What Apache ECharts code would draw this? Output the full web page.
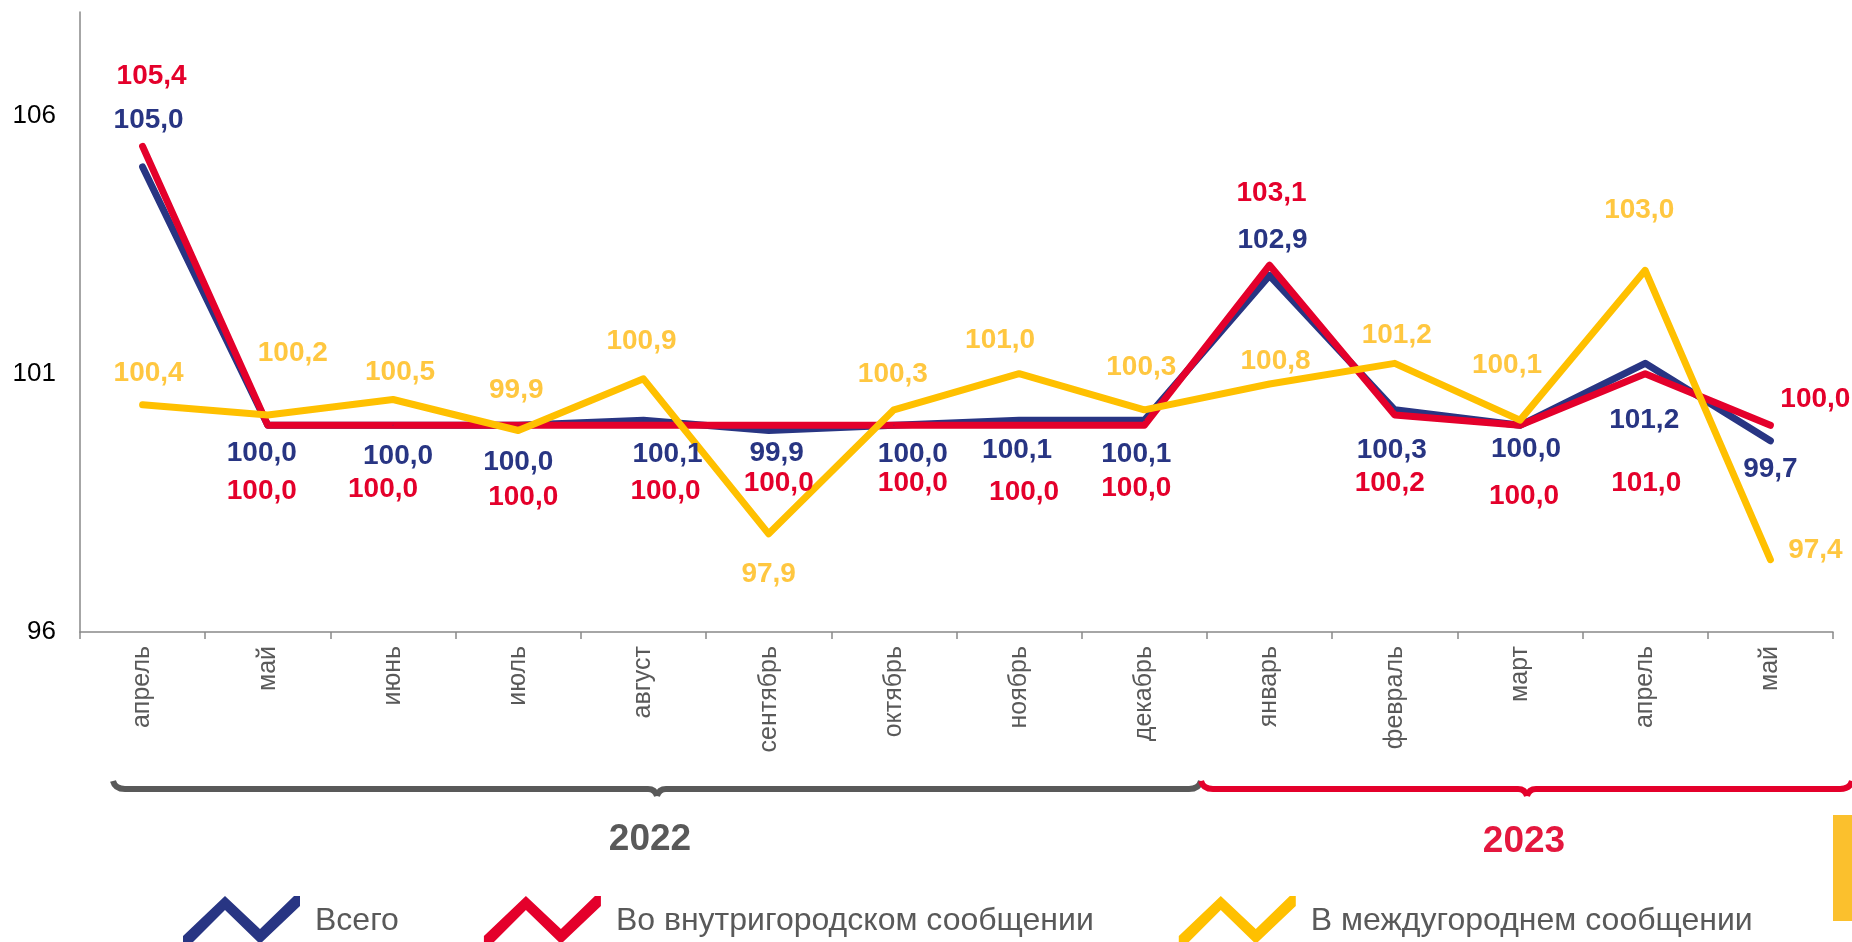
<!DOCTYPE html>
<html>
<head>
<meta charset="utf-8">
<script src="https://cdn.jsdelivr.net/npm/echarts@6/dist/echarts.min.js"></script>
<style>
  html, body { margin: 0; padding: 0; background: #fff; }
  #chart { width: 1852px; height: 942px; }
</style>
</head>
<body>
<div id="chart"></div>
<script>
// месяцы (апрель 2022 - май 2023)
var months = ['апрель', 'май', 'июнь', 'июль', 'август', 'сентябрь', 'октябрь',
  'ноябрь', 'декабрь', 'январь', 'февраль', 'март', 'апрель', 'май'];
// индексы, % к предыдущему месяцу
var total = [105.0, 100.0, 100.0, 100.0, 100.1, 99.9, 100.0, 100.1, 100.1, 102.9, 100.3, 100.0, 101.2, 99.7];
var urban = [105.4, 100.0, 100.0, 100.0, 100.0, 100.0, 100.0, 100.0, 100.0, 103.1, 100.2, 100.0, 101.0, 100.0];
var intercity = [100.4, 100.2, 100.5, 99.9, 100.9, 97.9, 100.3, 101.0, 100.3, 100.8, 101.2, 100.1, 103.0, 97.4];
var seriesNames = ['Всего', 'Во внутригородском сообщении', 'В междугороднем сообщении'];
var yearLabels = ['2022', '2023'];

// смещения подписей относительно точки
var totalOffset = [[6, -47], [-6, 28], [5, 31], [0, 37], [24, 34], [8, 23], [19, 29], [-2, 30], [-8, 34], [3, -35], [-3, 40], [6, 24], [-1, 57], [0, 28]];
var urbanOffset = [[9, -70], [-6, 66], [-10, 64], [5, 72], [22, 66], [10, 58], [19, 58], [5, 67], [-8, 63], [2, -72], [-5, 68], [4, 71], [1, 110], [45, -26]];
var interOffset = [[6, -31], [25, -62], [7, -27], [-2, -40], [-2, -38], [0, 40], [-1, -36], [-19, -33], [-3, -43], [6, -23], [2, -28], [-13, -55], [-6, -60], [45, -9]];

var FONT = '"Liberation Sans", Arial, sans-serif';

function fmt(v) {
  return v.toFixed(1).replace('.', ',');
}

function buildData(values, offsets) {
  return values.map(function (v, i) {
    return { value: v, label: { offset: offsets[i] } };
  });
}

function lineSeries(name, values, offsets, color, labelColor) {
  return {
    name: name,
    type: 'line',
    data: buildData(values, offsets),
    symbol: 'circle',
    symbolSize: 1,
    itemStyle: { color: color },
    lineStyle: { color: color, width: 7, cap: 'round', join: 'round' },
    label: {
      show: true,
      position: 'inside',
      color: labelColor,
      fontFamily: FONT,
      fontWeight: 'bold',
      fontSize: 28,
      formatter: function (p) { return fmt(p.value); }
    },
    emphasis: { disabled: true },
    animation: false
  };
}

// фигурная скобка под подписями месяцев
function brace(x1, x2, xm, y, color) {
  var st = { fill: null, stroke: color, lineWidth: 6 };
  var parts = [
    { type: 'bezierCurve', shape: { x1: x1, y1: y - 8, cpx1: x1 + 2, cpy1: y, x2: x1 + 12, y2: y } },
    { type: 'line', shape: { x1: x1 + 12, y1: y, x2: xm - 9, y2: y } },
    { type: 'bezierCurve', shape: { x1: xm - 9, y1: y, cpx1: xm - 2, cpy1: y, x2: xm, y2: y + 7 } },
    { type: 'bezierCurve', shape: { x1: xm, y1: y + 7, cpx1: xm + 2, cpy1: y, x2: xm + 9, y2: y } },
    { type: 'line', shape: { x1: xm + 9, y1: y, x2: x2 - 12, y2: y } },
    { type: 'bezierCurve', shape: { x1: x2 - 12, y1: y, cpx1: x2 - 2, cpy1: y, x2: x2, y2: y - 8 } }
  ];
  parts.forEach(function (p) { p.style = st; });
  return { type: 'group', children: parts };
}

// значок легенды - толстый зигзаг
var zigzag = 'path://M0,40 L42,0 L77,33 L111,0 L117,0 L117,10 L77,48 L42,14 L6,50 L0,50 Z';

var myChart = echarts.init(document.getElementById('chart'));
var option = {
  backgroundColor: '#fff',
  animation: false,
  grid: { left: 80, right: 19, top: 12, bottom: 310 },
  legend: {
    left: 183,
    top: 896,
    padding: 0,
    itemWidth: 117,
    itemHeight: 50,
    itemGap: 85,
    icon: zigzag,
    data: seriesNames,
    textStyle: {
      fontFamily: FONT,
      fontSize: 32,
      color: '#595959',
      padding: [0, 0, 0, 10]
    }
  },
  xAxis: {
    type: 'category',
    data: months,
    boundaryGap: true,
    axisLine: { lineStyle: { color: '#898989', width: 1.5 } },
    axisTick: { show: true, interval: 0, length: 7, lineStyle: { color: '#898989', width: 1.5 } },
    axisLabel: {
      interval: 0,
      rotate: 90,
      margin: 14,
      fontFamily: FONT,
      fontSize: 25,
      color: '#595959'
    }
  },
  yAxis: {
    type: 'value',
    min: 96,
    max: 108,
    interval: 5,
    splitLine: { show: false },
    axisLine: { show: true, lineStyle: { color: '#898989', width: 1.5 } },
    axisTick: { show: false },
    axisLabel: {
      margin: 24,
      fontFamily: FONT,
      fontSize: 26,
      color: '#000',
      formatter: function (v) { return (v - 96) % 5 === 0 ? String(v) : ''; }
    }
  },
  series: [
    lineSeries(seriesNames[0], total, totalOffset, '#283583', '#283583'),
    lineSeries(seriesNames[1], urban, urbanOffset, '#E4002B', '#E4002B'),
    lineSeries(seriesNames[2], intercity, interOffset, '#FFC000', '#FFC740')
  ],
  graphic: [
    brace(113, 1201, 657, 789, '#595959'),
    brace(1201, 1852, 1527, 789, '#E4002B'),
    {
      type: 'text',
      x: 650, y: 840,
      style: {
        text: yearLabels[0], fontFamily: FONT, fontWeight: 'bold', fontSize: 37,
        fill: '#595959', textAlign: 'center', textVerticalAlign: 'middle'
      }
    },
    {
      type: 'text',
      x: 1524, y: 842,
      style: {
        text: yearLabels[1], fontFamily: FONT, fontWeight: 'bold', fontSize: 37,
        fill: '#E4173E', textAlign: 'center', textVerticalAlign: 'middle'
      }
    },
    {
      type: 'rect',
      shape: { x: 1833, y: 815, width: 19, height: 106 },
      style: { fill: '#FBC02D' }
    }
  ]
};
myChart.setOption(option);
</script>
</body>
</html>
